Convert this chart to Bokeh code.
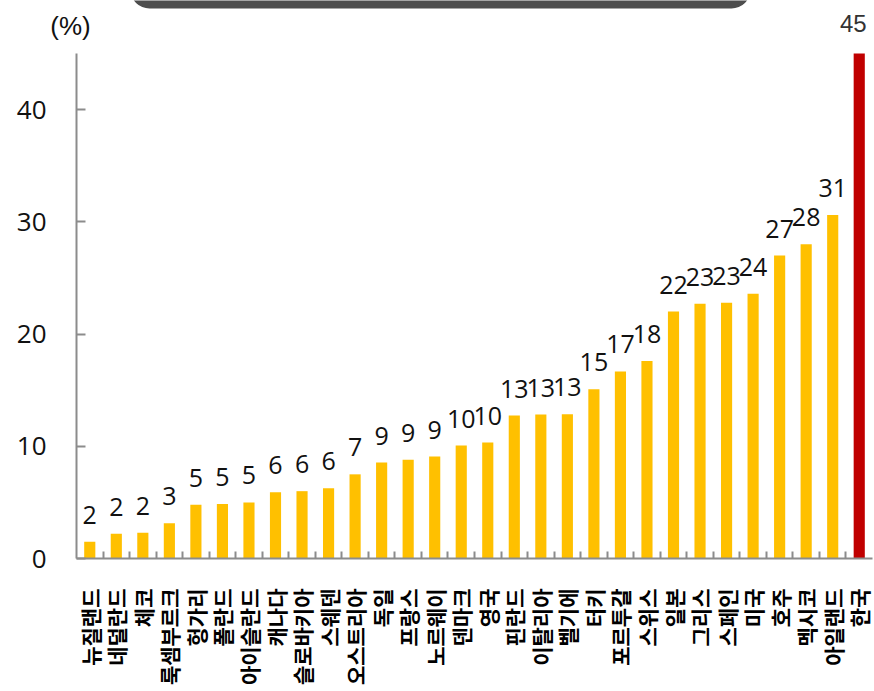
from math import pi
from bokeh.plotting import figure
from bokeh.models import (ColumnDataSource, FixedTicker, BoxAnnotation, Range1d)
from bokeh.core.properties import value
from bokeh.embed import file_html
from bokeh.resources import INLINE

categories = ["뉴질랜드", "네덜란드", "체코", "룩셈부르크", "헝가리", "폴란드",
              "아이슬란드", "캐나다", "슬로바키아", "스웨덴", "오스트리아", "독일",
              "프랑스", "노르웨이", "덴마크", "영국", "핀란드", "이탈리아", "벨기에",
              "터키", "포르투갈", "스위스", "일본", "그리스", "스페인", "미국",
              "호주", "멕시코", "아일랜드", "한국"]
values = [1.5, 2.2, 2.3, 3.15, 4.8, 4.85, 5.0, 5.9, 6.0, 6.25, 7.5, 8.55,
          8.8, 9.08, 10.06, 10.33, 12.74, 12.83, 12.86, 15.09, 16.67, 17.59,
          22.0, 22.7, 22.8, 23.6, 27.0, 28.0, 30.6, 45.0]
value_labels = ["2", "2", "2", "3", "5", "5", "5", "6", "6", "6", "7", "9",
                "9", "9", "10", "10", "13", "13", "13", "15", "17", "18",
                "22", "23", "23", "24", "27", "28", "31", "45"]
y_ticks = [0, 10, 20, 30, 40]
y_max = 45
unit_label = ["(%)"]

n = len(categories)
xs = list(range(1, n + 1))
colors = ["#FFC000"] * (n - 1) + ["#C00000"]

# layout: the frame covers the whole canvas; both axes are pinned where the
# reference draws them.
W, H = 874, 691
axis_px_left = 76          # y axis line, canvas px
axis_px_top = 53           # top of the y axis line
axis_px_bottom = 558       # x axis line
px_per_cat = (W - 2 - axis_px_left) / n
px_per_unit = (axis_px_bottom - axis_px_top) / y_max
x_start = 0.5 - axis_px_left / px_per_cat
x_end = n + 0.5 + 2 / px_per_cat
y_end = axis_px_bottom / px_per_unit
y_start = -(H - axis_px_bottom) / px_per_unit

p = figure(width=W, height=H, output_backend="svg", toolbar_location=None,
           x_range=Range1d(x_start, x_end), y_range=Range1d(y_start, y_end),
           min_border_left=0, min_border_right=0, min_border_top=0,
           min_border_bottom=0)
p.outline_line_color = None
p.xgrid.grid_line_color = None
p.ygrid.grid_line_color = None
p.background_fill_color = "white"
p.border_fill_color = "white"

src = ColumnDataSource(dict(x=xs, top=values, color=colors))
p.vbar(x="x", top="top", bottom=0, width=0.42, fill_color="color",
       line_color=None, source=src)

# value labels
src_main = ColumnDataSource(dict(x=xs[:-1], y=values[:-1], t=value_labels[:-1]))
p.text(x="x", y="y", text="t", source=src_main, y_offset=-27,
       text_align="center", text_baseline="alphabetic",
       text_font=value("Open Sans"), text_font_size="25px",
       text_color="#111111")
src_last = ColumnDataSource(dict(x=xs[-1:], y=values[-1:], t=value_labels[-1:]))
p.text(x="x", y="y", text="t", source=src_last, y_offset=-30, x_offset=-6,
       text_align="center", text_baseline="alphabetic",
       text_font=value("Liberation Sans"), text_font_size="24px",
       text_color="#333333")

# unit label above the y axis
src_unit = ColumnDataSource(dict(x=[0.5], y=[y_max], t=unit_label))
p.text(x="x", y="y", text="t", source=src_unit, x_offset=-6, y_offset=-28,
       text_align="center", text_baseline="alphabetic",
       text_font=value("Liberation Sans"), text_font_size="26px",
       text_color="#111111")

# y axis
ya = p.yaxis[0]
ya.fixed_location = 0.5
ya.bounds = (0, y_max)
ya.ticker = FixedTicker(ticks=y_ticks)
ya.axis_line_color = "#8c8c8c"
ya.axis_line_width = 2
ya.major_tick_line_color = "#8c8c8c"
ya.major_tick_line_width = 2
ya.major_tick_in = 9
ya.major_tick_out = 0
ya.minor_tick_line_color = None
ya.major_label_standoff = 30
ya.major_label_text_font = "Open Sans"
ya.major_label_text_font_size = "26px"
ya.major_label_text_color = "#111111"

# x axis
xa = p.xaxis[0]
xa.fixed_location = 0
xa.bounds = (0.5, n + 0.5)
xa.ticker = FixedTicker(ticks=xs, minor_ticks=[i + 0.5 for i in xs[:-1]])
xa.major_label_overrides = {x: c for x, c in zip(xs, categories)}
xa.major_label_orientation = pi / 2
xa.major_tick_line_color = None
xa.minor_tick_line_color = "#8c8c8c"
xa.minor_tick_line_width = 2
xa.minor_tick_in = 7
xa.minor_tick_out = 0
xa.axis_line_color = "#8c8c8c"
xa.axis_line_width = 2
xa.major_label_standoff = 24
xa.major_label_text_font = "Noto Sans CJK KR"
xa.major_label_text_font_style = "bold"
xa.major_label_text_font_size = "21px"
xa.major_label_text_color = "#000000"

# dark rounded box cut off at the top
p.add_layout(BoxAnnotation(left=0.5 + (130 - axis_px_left) / px_per_cat,
                           right=0.5 + (750 - axis_px_left) / px_per_cat,
                           bottom=y_end - 8 / px_per_unit,
                           top=y_end + 30 / px_per_unit,
                           fill_color="#4d4d4d", fill_alpha=1, line_color=None,
                           border_radius=22))

open("out.html", "w").write(file_html(p, INLINE))
